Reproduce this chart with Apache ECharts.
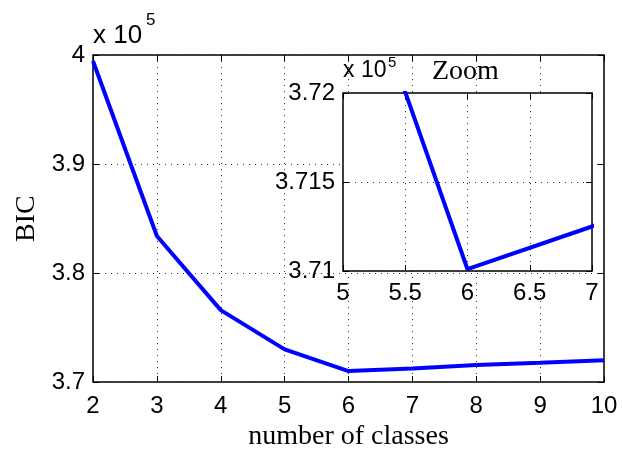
<!DOCTYPE html>
<html><head><meta charset="utf-8">
<script src="https://cdn.jsdelivr.net/npm/echarts@6/dist/echarts.min.js"></script>
<style>html,body{margin:0;padding:0;background:#fff}#c{width:622px;height:456px}</style>
</head><body><div id="c"></div>
<script>
// Data
const classes = [2, 3, 4, 5, 6, 7, 8, 9, 10];
const bic = [399450, 383400, 376600, 373000, 371010, 371250, 371560, 371780, 372010];
// Tick values
const mainXTicks = [2, 3, 4, 5, 6, 7, 8, 9, 10];
const mainYTicks = [370000, 380000, 390000, 400000];
const insetXTicks = [5, 5.5, 6, 6.5, 7];
const insetYTicks = [371000, 371500, 372000];

const SANS = '"Liberation Sans", Arial, Helvetica, sans-serif';
const SERIF = '"Liberation Serif", "Times New Roman", serif';
const fmtY = v => String(parseFloat((v / 1e5).toFixed(4)));

function range(t) { return { min: t[0], max: t[t.length - 1], interval: t[1] - t[0] }; }

const dotted = { show: true, lineStyle: { color: '#333', width: 1, type: [1, 5] } };
const tick = (len) => ({ show: true, inside: true, length: len, lineStyle: { color: '#000', width: 1 } });

function axisPair(kind, gridIndex, ticks, fmt, zv, margin) {
  const r = range(ticks);
  const base = Object.assign({ type: 'value', gridIndex: gridIndex, z: zv }, r);
  const primary = Object.assign({}, base, {
    position: kind === 'x' ? 'bottom' : 'left',
    axisLine: { show: false },
    axisTick: tick(6),
    axisLabel: { show: true, fontSize: 24, fontFamily: SANS, color: '#000', margin: margin,
      formatter: fmt, showMinLabel: true, showMaxLabel: true },
    splitLine: dotted
  });
  const mirror = Object.assign({}, base, {
    position: kind === 'x' ? 'top' : 'right',
    axisLine: { show: false },
    axisTick: tick(6),
    axisLabel: { show: false },
    splitLine: { show: false }
  });
  return [primary, mirror];
}

const mx = axisPair('x', 0, mainXTicks, v => String(v), 1, 12);
const my = axisPair('y', 0, mainYTicks, fmtY, 1, 8);
const ix = axisPair('x', 1, insetXTicks, v => String(v), 6, 10);
const iy = axisPair('y', 1, insetYTicks, fmtY, 6, 8);

mx[0].name = 'number of classes';
mx[0].nameLocation = 'middle';
mx[0].nameGap = 38;
mx[0].nameTextStyle = { fontFamily: SERIF, fontSize: 28, color: '#000' };
my[0].name = 'BIC';
my[0].nameLocation = 'middle';
my[0].nameGap = 52;
my[0].nameRotate = 90;
my[0].nameTextStyle = { fontFamily: SERIF, fontSize: 28, color: '#000' };

const pts = classes.map((c, i) => [c, bic[i]]);

const option = {
  animation: false,
  backgroundColor: '#fff',
  title: [
    { text: 'x 10', left: 93, top: 23, textStyle: { fontFamily: SANS, fontSize: 26, fontWeight: 'normal', color: '#000' }, padding: 0 },
    { text: '5', left: 146, top: 12, textStyle: { fontFamily: SANS, fontSize: 17, fontWeight: 'normal', color: '#000' }, padding: 0 },
    { text: 'x 10', left: 343, top: 59, textStyle: { fontFamily: SANS, fontSize: 23, fontWeight: 'normal', color: '#000' }, padding: 0, z: 8 },
    { text: '5', left: 388, top: 55, textStyle: { fontFamily: SANS, fontSize: 15, fontWeight: 'normal', color: '#000' }, padding: 0, z: 8 },
    { text: 'Zoom', left: 432, top: 58, textStyle: { fontFamily: SERIF, fontSize: 28, fontWeight: 'normal', color: '#000' }, padding: 0, z: 8 }
  ],
  grid: [
    { left: 93, top: 55, width: 511, height: 330, show: true, borderColor: '#000', borderWidth: 1.5, backgroundColor: 'rgba(0,0,0,0)', z: 0 },
    { left: 343, top: 93, width: 249, height: 178, show: true, borderColor: '#000', borderWidth: 1.5, backgroundColor: '#fff', z: 5 }
  ],
  xAxis: [mx[0], mx[1], ix[0], ix[1]],
  yAxis: [my[0], my[1], iy[0], iy[1]],
  series: [
    { type: 'line', xAxisIndex: 0, yAxisIndex: 0, data: pts, showSymbol: false, symbol: 'none',
      lineStyle: { color: '#0000ff', width: 4 }, z: 3 },
    { type: 'line', xAxisIndex: 2, yAxisIndex: 2, data: pts, showSymbol: false, symbol: 'none', clip: true,
      lineStyle: { color: '#0000ff', width: 4 }, z: 7 }
  ]
};

const chart = echarts.init(document.getElementById('c'), null, { renderer: 'canvas' });
chart.setOption(option);
</script>
</body></html>
